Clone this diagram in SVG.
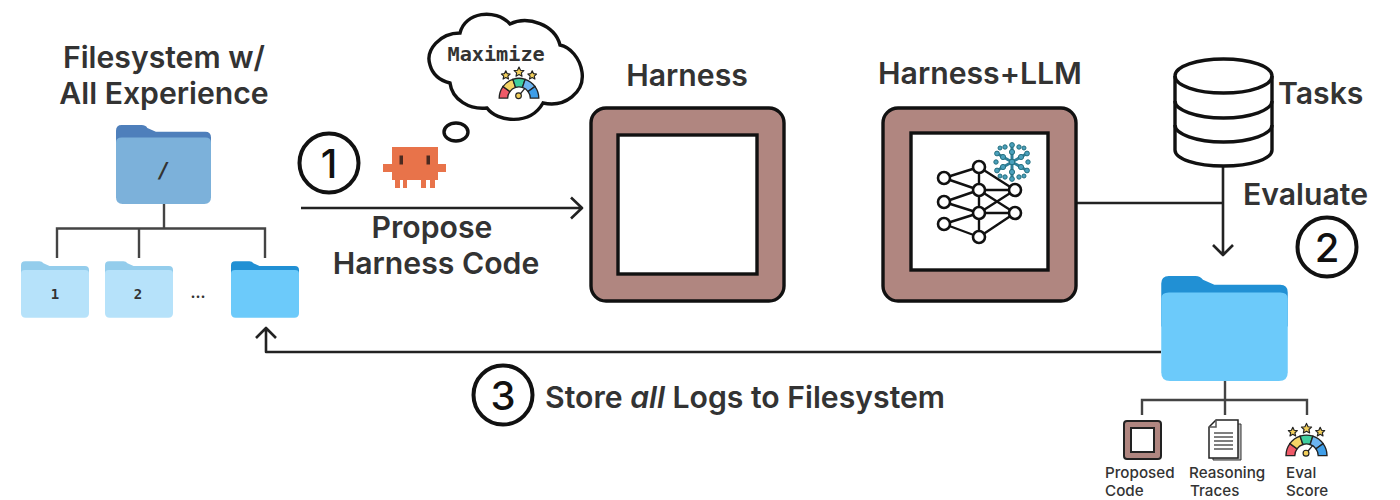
<svg xmlns="http://www.w3.org/2000/svg" width="1400" height="500" viewBox="0 0 1400 500">
<style>
text{font-family:Inter,"Noto Sans","Liberation Sans",sans-serif;fill:#333}
.t{font-size:30.200px;font-weight:600}
.m{text-anchor:middle}
.s{font-size:15.200px;font-weight:500}
.mono{font-family:"DejaVu Sans Mono","Liberation Mono",monospace;font-weight:700}
.num{font-family:Inter,"Noto Sans",sans-serif;font-size:40px;font-weight:500;fill:#111;text-anchor:middle}
.line{fill:none;stroke:#222;stroke-width:2.6;stroke-linejoin:round}
.tree{fill:none;stroke:#444;stroke-width:2.4}
.ring{fill:#fff;stroke:#111;stroke-width:4}
.outer{fill:#b08680;stroke:#111;stroke-width:3.4}
.inner{fill:#fff;stroke:#111;stroke-width:3.4}
.ink{fill:none;stroke:#111;stroke-width:3.4}
.nn{fill:#fff;stroke:#111;stroke-width:2.6}
.nnl{stroke:#111;stroke-width:2.4}
.f1{color:#4e7fbb;fill:#7cb1da}
.f2{color:#94cdec;fill:#b6e2fa}
.f3{color:#2190d4;fill:#6ccafa}
.flake{stroke:#2f7f98;stroke-width:3;stroke-linecap:round;fill:none}
.flakedot{fill:#4aa0bc;stroke:#25707f;stroke-width:1}
.star{fill:#f2cf5b;stroke:#222;stroke-width:1.2;stroke-linejoin:round}
.seg{stroke:#222;stroke-width:1.4}
</style>
<defs>
<symbol id="folder" viewBox="0 0 100 83">
<path fill="currentColor" d="M0 6Q0 0 6 0H27Q31 0 33 3L42 7H94Q100 7 100 13V40H0Z"/>
<path d="M0 18Q0 13 6 13H94Q100 13 100 18V76Q100 83 93 83H7Q0 83 0 76Z"/>
</symbol>
<symbol id="gauge" viewBox="0 0 44 35" overflow="visible">
<path class="seg" fill="#ef5a68" d="M1 33A21 21 0 0 1 5 20.700L12.300 26A12 12 0 0 0 10 33Z"/>
<path class="seg" fill="#f5d566" d="M5 20.700A21 21 0 0 1 15.500 13L18.300 21.600A12 12 0 0 0 12.300 26Z"/>
<path class="seg" fill="#3fcf9f" d="M15.500 13A21 21 0 0 1 28.500 13L25.700 21.600A12 12 0 0 0 18.300 21.600Z"/>
<path class="seg" fill="#6cb4f0" d="M28.500 13A21 21 0 0 1 39 20.700L31.700 26A12 12 0 0 0 25.700 21.600Z"/>
<path class="seg" fill="#3f9ee8" d="M39 20.700A21 21 0 0 1 43 33H34A12 12 0 0 0 31.700 26Z"/>
<path class="star" d="M22 0L23.600 3.400L27.200 3.800L24.500 6.200L25.200 9.800L22 8L18.800 9.800L19.500 6.200L16.800 3.800L20.400 3.400Z"/>
<path class="star" d="M8 4L9.400 7L12.600 7.400L10.200 9.600L10.900 12.800L8 11.200L5.100 12.800L5.800 9.600L3.400 7.400L6.600 7Z"/>
<path class="star" d="M36 4L37.400 7L40.600 7.400L38.200 9.600L38.900 12.800L36 11.200L33.100 12.800L33.800 9.600L31.400 7.400L34.600 7Z"/>
<path stroke="#222" stroke-width="1.400" d="M23 29L28 23"/>
<circle class="star" cx="21.500" cy="30.500" r="3"/>
</symbol>
</defs>

<g id="connectors">
<path class="tree" d="M164 204V228.500M57 258V228.500H265V258M139 228.500V258"/>
<path class="line" d="M301 208H582M571 197.500L582 208L571 218.500"/>
<path class="line" d="M1076 203H1223M1223 166V255M1213 245L1223 255L1233 245"/>
<path class="line" d="M1161 352H266V328M256 338L266 328L276 338"/>
<path class="tree" d="M1225 381V400M1142 415V400H1307V415M1225 400V415"/>
</g>

<g id="filesystem-label">
<text class="t m" x="164" y="68">Filesystem w/</text>
<text class="t m" x="164" y="104">All Experience</text>
</g>
<g id="folder-root">
<use href="#folder" class="f1" x="116" y="125" width="95" height="79"/>
<text class="mono m" x="163" y="178" font-size="22" fill="#222">/</text>
</g>
<g id="folder-1">
<use href="#folder" class="f2" x="21" y="261" width="68" height="57"/>
<text class="mono m" x="55" y="299" font-size="14">1</text>
</g>
<g id="folder-2">
<use href="#folder" class="f2" x="105" y="261" width="68" height="57"/>
<text class="mono m" x="138" y="299" font-size="14">2</text>
</g>
<g id="ellipsis"><text class="m" x="198" y="298" font-size="15" font-weight="700">...</text></g>
<g id="folder-3">
<use href="#folder" class="f3" x="231" y="261" width="68" height="57"/>
</g>

<g id="step-1">
<circle class="ring" cx="329" cy="163" r="29.500"/>
<text class="num" x="329" y="178">1</text>
</g>
<g id="agent">
<path fill="#e8734a" d="M392 147H438V164H446V172H438V180H435V188H430V180H426V188H421V180H407V188H403V180H400V188H395V180H392V172H383V164H392Z"/>
<rect x="399.500" y="155.500" width="3.500" height="9" fill="#4a2a20"/>
<rect x="426.500" y="155.500" width="3.500" height="9" fill="#4a2a20"/>
</g>
<g id="thought">
<ellipse class="ink" cx="456" cy="132" rx="12" ry="9"/>
<path class="ink" fill="#fff" d="M460 33C440 33 425 50 430 65C433 76 442 81 450 83C452 100 470 110 487 108C497 122 530 126 543 103C565 108 585 92 582 72C580 58 570 47 560 45C555 25 528 15 510 24C495 8 465 12 460 33Z"/>
<text class="mono" x="447.500" y="61" font-size="20.200">Maximize</text>
<use href="#gauge" x="497" y="67" width="44" height="33"/>
</g>
<g id="propose-label">
<text class="t m" x="432" y="238">Propose</text>
<text class="t m" x="436" y="274">Harness Code</text>
</g>

<g id="harness">
<text class="t m" x="687" y="86">Harness</text>
<rect class="outer" x="591" y="108" width="193" height="193" rx="15"/>
<rect class="inner" x="618" y="135" width="139" height="139"/>
</g>

<g id="harness-llm">
<text class="t m" x="980" y="84">Harness+LLM</text>
<rect class="outer" x="883" y="108" width="193" height="193" rx="15"/>
<rect class="inner" x="911" y="133" width="137" height="137"/>
<g class="nnl">
<path d="M944 178L979 167M944 178L979 190M944 202L979 190M944 202L979 213M944 224L979 213M944 224L979 237M979 167V237M979 167L1015 190M979 190H1015M979 190L1015 213M979 213L1015 190M979 213H1015M979 237L1015 213"/>
</g>
<g class="nn">
<circle cx="944" cy="178" r="6"/><circle cx="944" cy="202" r="6"/><circle cx="944" cy="224" r="6"/>
<circle cx="979" cy="167" r="6"/><circle cx="979" cy="190" r="6"/><circle cx="979" cy="213" r="6"/><circle cx="979" cy="237" r="6"/>
<circle cx="1015" cy="190" r="6"/><circle cx="1015" cy="213" r="6"/>
</g>
<path class="flake" d="M1012 145V179M997 153.500L1027 170.500M997 170.500L1027 153.500"/>
<g class="flakedot">
<circle cx="1012" cy="145" r="2.400"/><circle cx="1012" cy="152" r="2.600"/><circle cx="1012" cy="172" r="2.600"/><circle cx="1012" cy="179" r="2.400"/>
<circle cx="997" cy="153.500" r="2.400"/><circle cx="1003" cy="157" r="2.600"/><circle cx="1021" cy="167" r="2.600"/><circle cx="1027" cy="170.500" r="2.400"/>
<circle cx="997" cy="170.500" r="2.400"/><circle cx="1003" cy="167" r="2.600"/><circle cx="1021" cy="157" r="2.600"/><circle cx="1027" cy="153.500" r="2.400"/>
<circle cx="1005" cy="147" r="2.200"/><circle cx="1019" cy="147" r="2.200"/><circle cx="1005" cy="177" r="2.200"/><circle cx="1019" cy="177" r="2.200"/>
<circle cx="996" cy="162" r="2.200"/><circle cx="1028" cy="162" r="2.200"/><circle cx="1000" cy="148" r="2"/><circle cx="1024" cy="148" r="2"/><circle cx="1000" cy="176" r="2"/><circle cx="1024" cy="176" r="2"/><circle cx="1012" cy="162" r="2.800"/>
</g>
</g>

<g id="tasks">
<path class="ink" fill="#fff" d="M1175 76V150C1175 159 1196 166 1223.500 166C1251 166 1272 159 1272 150V76"/>
<ellipse class="ink" fill="#fff" cx="1223.500" cy="76" rx="48.500" ry="17"/>
<path class="ink" d="M1175 101C1175 110 1196 118 1223.500 118C1251 118 1272 110 1272 101M1175 125C1175 134 1196 142 1223.500 142C1251 142 1272 134 1272 125"/>
<text class="t" x="1278" y="104">Tasks</text>
</g>

<g id="evaluate">
<text class="t" x="1243" y="205">Evaluate</text>
<circle class="ring" cx="1327" cy="247" r="29.500"/>
<text class="num" x="1327" y="262">2</text>
</g>

<g id="folder-logs">
<use href="#folder" class="f3" x="1161" y="276" width="127" height="105"/>
</g>

<g id="step-3">
<circle class="ring" cx="503" cy="395" r="29.500"/>
<text class="num" x="503" y="410">3</text>
<text class="t" x="545" y="408">Store <tspan font-style="italic">all</tspan> Logs to Filesystem</text>
</g>

<g id="proposed-code">
<rect x="1124" y="421" width="37" height="38" rx="3" fill="#b08680" stroke="#222" stroke-width="2"/>
<rect x="1131" y="428" width="23" height="24" fill="#fff" stroke="#222" stroke-width="2"/>
<text class="s" x="1105" y="478">Proposed</text>
<text class="s" x="1105" y="496">Code</text>
</g>
<g id="reasoning-traces">
<path fill="#bbb" stroke="#333" stroke-width="1" d="M1213 424H1241V460H1213Z"/>
<path fill="#fff" stroke="#222" stroke-width="1.500" d="M1216 420H1238V458H1209V427Z"/>
<path fill="none" stroke="#555" stroke-width="1.500" d="M1214 433H1233M1214 437H1233M1214 441H1233M1214 445H1233M1214 449H1233M1209 427H1216V420"/>
<text class="s" x="1189" y="478">Reasoning</text>
<text class="s" x="1190" y="496">Traces</text>
</g>
<g id="eval-score">
<use href="#gauge" x="1285" y="423" width="43" height="35"/>
<text class="s" x="1286" y="478">Eval</text>
<text class="s" x="1286" y="496">Score</text>
</g>
</svg>
